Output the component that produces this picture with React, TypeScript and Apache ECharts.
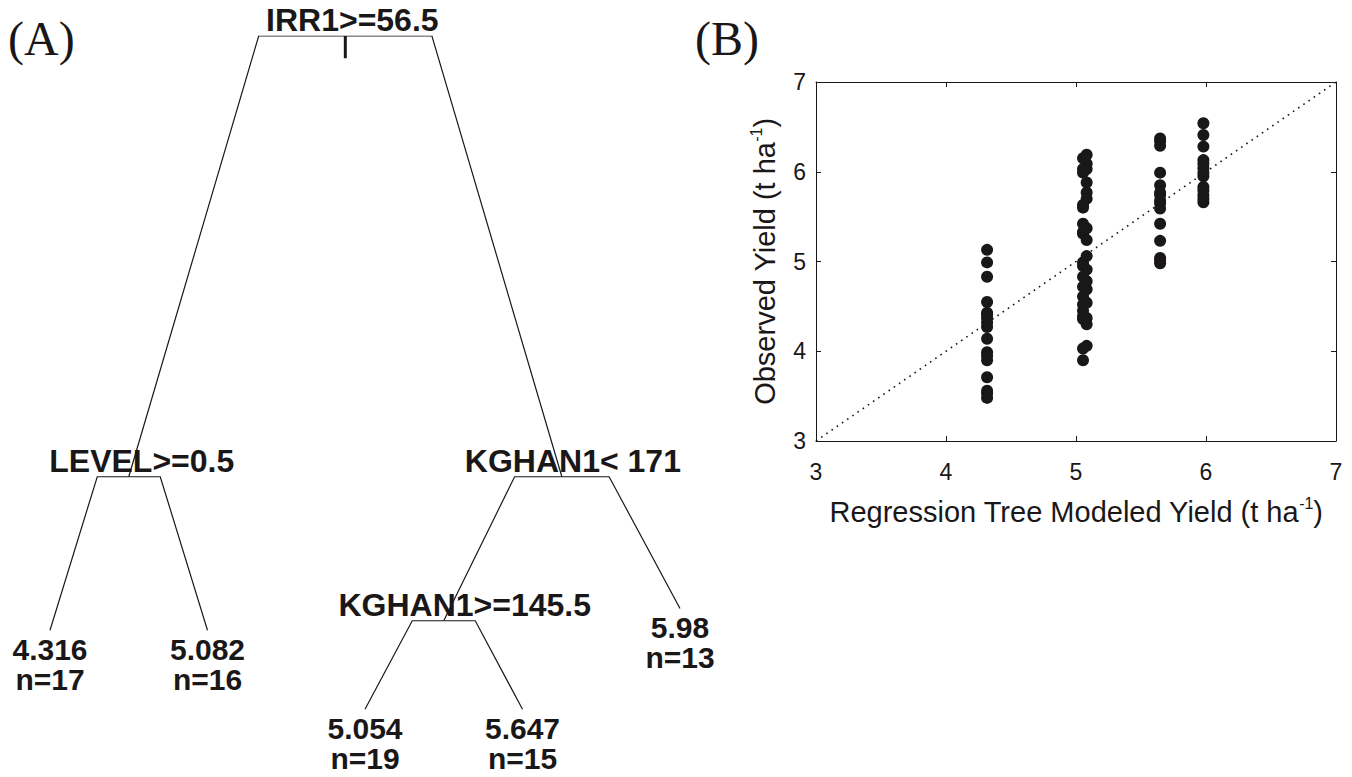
import React, { useEffect, useRef } from "react";
import * as echarts from "echarts";

// ---- Panel A: regression tree ----
// Nodes listed depth-first; children appear in left-to-right order.
const nodeLabels = [
  "IRR1>=56.5",
  "LEVEL>=0.5",
  "4.316",
  "5.082",
  "KGHAN1< 171",
  "KGHAN1>=145.5",
  "5.054",
  "5.647",
  "5.98",
];
const nodeParents = [-1, 0, 1, 1, 0, 4, 5, 5, 4];
// relative deviance level of each node (root = 1)
const nodeHeights = [1, 0.348, 0.121, 0.121, 0.348, 0.135, 0.004, 0.004, 0.153];
const leafCounts = [0, 0, 17, 16, 0, 0, 19, 15, 13];

// ---- Panel B: observed vs. modeled yield ----
const modeledYield = [4.316, 5.054, 5.082, 5.647, 5.98];
const observedAt4316 = [5.13, 4.99, 4.83, 4.55, 4.43, 4.41, 4.37, 4.32, 4.27, 4.14, 3.99, 3.95, 3.9, 3.71, 3.56, 3.53, 3.48];
const observedAt5054 = [6.15, 6.03, 5.99, 5.63, 5.6, 5.42, 5.33, 5.31, 4.99, 4.95, 4.83, 4.72, 4.61, 4.52, 4.45, 4.39, 4.36, 4.03, 3.9];
const observedAt5082 = [6.19, 6.09, 6.03, 5.88, 5.77, 5.7, 5.37, 5.24, 5.06, 4.91, 4.78, 4.69, 4.54, 4.37, 4.3, 4.06];
const observedAt5647 = [6.37, 6.34, 6.29, 5.99, 5.85, 5.77, 5.74, 5.68, 5.65, 5.59, 5.42, 5.23, 5.04, 5.01, 4.98];
const observedAt598 = [6.54, 6.41, 6.28, 6.13, 6.09, 6.04, 5.99, 5.95, 5.83, 5.79, 5.74, 5.7, 5.66];
const observedGroups = [observedAt4316, observedAt5054, observedAt5082, observedAt5647, observedAt598];
const axisRange = [3, 7];

// drawing style
const INK = "#1a1718";
const SHOULDER = 0.4; // fraction of the branch drawn horizontally
const STEM = 0.033; // root marker length in deviance units
const splitLabelShift: Record<number, number> = { 0: 7, 1: 13, 4: 11, 5: 21 };

function layoutTree() {
  const children: number[][] = nodeLabels.map(() => []);
  nodeParents.forEach((p, i) => {
    if (p >= 0) children[p].push(i);
  });
  const xs: number[] = new Array(nodeLabels.length).fill(0);
  let leafIndex = 0;
  const place = (i: number): number => {
    if (children[i].length === 0) {
      leafIndex += 1;
      xs[i] = leafIndex;
    } else {
      const cx = children[i].map(place);
      xs[i] = cx.reduce((a, b) => a + b, 0) / cx.length;
    }
    return xs[i];
  };
  place(0);
  return { children, xs };
}

export default function App() {
  const ref = useRef<HTMLDivElement>(null);

  useEffect(() => {
    if (!ref.current) return;
    const chart = echarts.init(ref.current, undefined, { renderer: "svg" });
    const { children, xs } = layoutTree();

    const edges = nodeParents
      .map((p, i) => {
        if (p < 0) return null;
        const px = xs[p];
        const py = nodeHeights[p];
        return {
          coords: [
            [px, py],
            [px + SHOULDER * (xs[i] - px), py],
            [xs[i], nodeHeights[i]],
          ],
        };
      })
      .filter(Boolean);

    const splitNodes = nodeLabels
      .map((label, i) => ({ label, i }))
      .filter((d) => children[d.i].length > 0)
      .map((d) => ({
        value: [xs[d.i], nodeHeights[d.i]],
        name: d.label,
        label: { offset: [splitLabelShift[d.i] || 0, 0] },
      }));

    const leafNodes = nodeLabels
      .map((label, i) => ({ label, i }))
      .filter((d) => children[d.i].length === 0)
      .map((d) => ({
        value: [xs[d.i], nodeHeights[d.i]],
        name: `${d.label}\nn=${leafCounts[d.i]}`,
      }));

    const scatterData: number[][] = [];
    observedGroups.forEach((g, k) => g.forEach((v) => scatterData.push([modeledYield[k], v])));

    const sans = "'Liberation Sans', Arial, sans-serif";
    const treeFont = {
      fontFamily: sans,
      fontWeight: "bold" as const,
      color: INK,
      opacity: 1,
      textBorderWidth: 0,
    };
    const axisFont = { fontFamily: sans, fontSize: 23, color: INK };
    const titleRich = {
      a: { fontFamily: sans, fontSize: 29, lineHeight: 34, color: INK },
      s: { fontFamily: sans, fontSize: 16, lineHeight: 16, verticalAlign: "top", color: INK },
    };
    const frameAxis = {
      min: axisRange[0],
      max: axisRange[1],
      interval: 1,
      axisLine: { show: true, lineStyle: { color: INK, width: 1 } },
      axisTick: { show: true, inside: true, length: 5, lineStyle: { color: INK } },
      splitLine: { show: false },
    };

    const panelTag = (text: string, x: number) => ({
      type: "text",
      x,
      y: 38,
      style: {
        text,
        font: "48px 'Liberation Serif', 'Times New Roman', serif",
        fill: INK,
        align: "left",
        verticalAlign: "middle",
        textAlign: "left",
        textVerticalAlign: "middle",
      },
    });

    chart.setOption({
      animation: false,
      backgroundColor: "#fff",
      grid: [
        { left: 50, right: 672, top: 36, bottom: 65 },
        { left: 816, right: 16, top: 82, bottom: 336 },
      ],
      xAxis: [
        { gridIndex: 0, type: "value", min: 1, max: 5, show: false },
        {
          gridIndex: 1,
          type: "value",
          position: "bottom",
          ...frameAxis,
          axisLabel: { ...axisFont, margin: 19 },
          name: "{a|Regression Tree Modeled Yield (t ha}{s|-1}{a|)}",
          nameLocation: "middle",
          nameGap: 54,
          nameTextStyle: { rich: titleRich },
        },
        {
          gridIndex: 1,
          type: "value",
          position: "top",
          ...frameAxis,
          axisLabel: { show: false },
        },
      ],
      yAxis: [
        { gridIndex: 0, type: "value", min: 0, max: 1, show: false },
        {
          gridIndex: 1,
          type: "value",
          position: "left",
          ...frameAxis,
          axisLabel: { ...axisFont, margin: 10 },
          name: "{a|Observed Yield (t ha}{s|-1}{a|)}",
          nameLocation: "middle",
          nameGap: 34,
          nameTextStyle: { rich: titleRich },
        },
        {
          gridIndex: 1,
          type: "value",
          position: "right",
          ...frameAxis,
          axisLabel: { show: false },
        },
      ],
      graphic: [panelTag("(A)", 8), panelTag("(B)", 695)],
      series: [
        {
          type: "lines",
          coordinateSystem: "cartesian2d",
          xAxisIndex: 0,
          yAxisIndex: 0,
          polyline: true,
          silent: true,
          lineStyle: { color: INK, width: 1.2, opacity: 1, curveness: 0 },
          data: edges,
        },
        {
          type: "lines",
          coordinateSystem: "cartesian2d",
          xAxisIndex: 0,
          yAxisIndex: 0,
          polyline: true,
          silent: true,
          lineStyle: { color: INK, width: 3, opacity: 1 },
          data: [{ coords: [[xs[0], nodeHeights[0]], [xs[0], nodeHeights[0] - STEM]] }],
        },
        {
          type: "scatter",
          xAxisIndex: 0,
          yAxisIndex: 0,
          symbolSize: 0,
          silent: true,
          label: {
            show: true,
            position: "top",
            distance: 0,
            formatter: "{b}",
            fontSize: 32,
            ...treeFont,
          },
          data: splitNodes,
        },
        {
          type: "scatter",
          xAxisIndex: 0,
          yAxisIndex: 0,
          symbolSize: 0,
          silent: true,
          label: {
            show: true,
            position: "bottom",
            distance: 4,
            formatter: "{b}",
            fontSize: 30,
            lineHeight: 30,
            ...treeFont,
          },
          data: leafNodes,
        },
        {
          type: "line",
          xAxisIndex: 1,
          yAxisIndex: 1,
          data: [
            [axisRange[0], axisRange[0]],
            [axisRange[1], axisRange[1]],
          ],
          symbol: "none",
          silent: true,
          lineStyle: { color: INK, width: 1.6, type: [1.6, 4.7] },
        },
        {
          type: "scatter",
          xAxisIndex: 1,
          yAxisIndex: 1,
          symbol: "circle",
          symbolSize: 12,
          itemStyle: { color: INK, opacity: 1 },
          data: scatterData,
        },
      ],
    });

    return () => chart.dispose();
  }, []);

  return (
    <div
      ref={ref}
      style={{ position: "fixed", left: 0, top: 0, width: 1352, height: 777, background: "#fff" }}
    />
  );
}
